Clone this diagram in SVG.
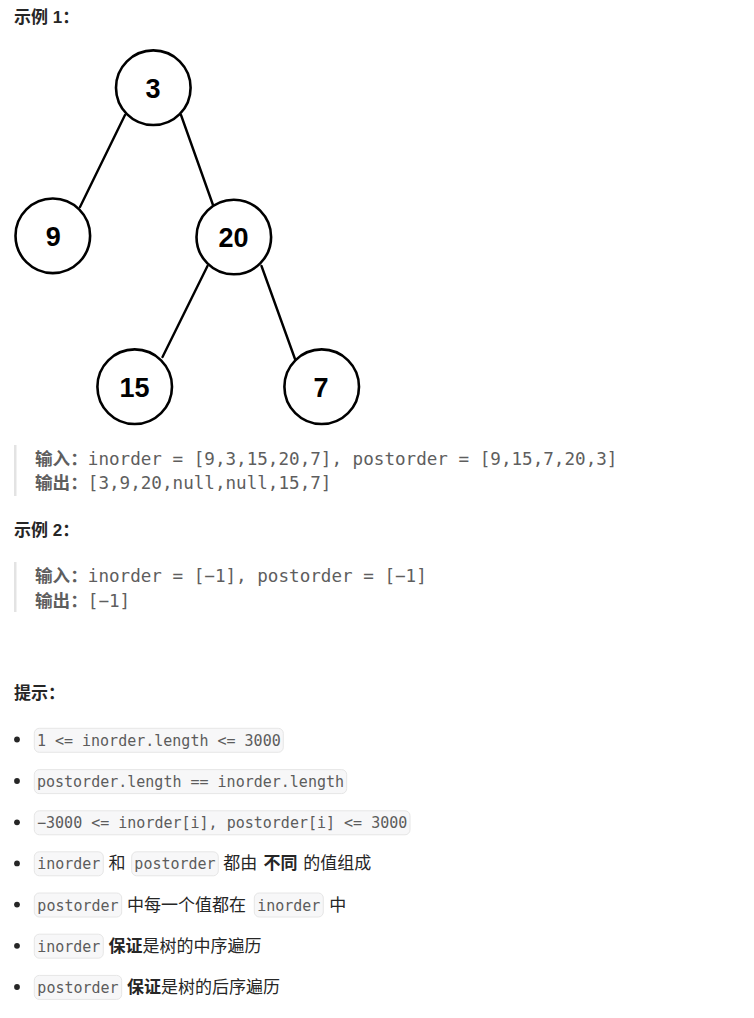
<svg xmlns="http://www.w3.org/2000/svg" width="754" height="1018" viewBox="0 0 754 1018">
<style>
.h{font-family:'Liberation Sans','Noto Sans CJK SC',sans-serif;font-weight:bold;font-size:17px;fill:#262626}
.t{font-family:'Noto Sans CJK SC',sans-serif;font-size:17px;fill:#262626}
.b{font-weight:bold}
.c{font-family:'DejaVu Sans Mono',monospace;font-size:15px;fill:#5c5c5c;text-anchor:middle}
.cb{fill:#f7f7f8;stroke:#e6e6e6;stroke-width:1}
.q{font-family:'DejaVu Sans Mono','Noto Sans CJK SC',monospace;font-size:17.6px;fill:#5e5e5e}
.qb{font-family:'Noto Sans CJK SC',sans-serif;font-weight:bold}
.bar{fill:#e3e3e3}
.dot{fill:#262626}
.node circle{fill:#fff;stroke:#000;stroke-width:2.6}
.node text{font-family:'Liberation Sans',Arial,sans-serif;font-weight:bold;font-size:27px;fill:#000;text-anchor:middle}
.edge{stroke:#000;stroke-width:2.4;stroke-linecap:round}
</style>
<rect width="754" height="1018" fill="#fff"/>

<text class="h" x="14" y="23">示例 1：</text>

<g id="connectors">
<line class="edge" x1="125" y1="115" x2="80" y2="207"/>
<line class="edge" x1="181" y1="115" x2="213" y2="205"/>
<line class="edge" x1="207.5" y1="266" x2="162.5" y2="357"/>
<line class="edge" x1="261.5" y1="266" x2="295" y2="359"/>
</g>

<g id="node-3" class="node"><circle cx="153.3" cy="87.7" r="37.3"/><text x="153" y="98.3">3</text></g>
<g id="node-9" class="node"><circle cx="52.8" cy="235.8" r="37.3"/><text x="53.3" y="245.7">9</text></g>
<g id="node-20" class="node"><circle cx="233.8" cy="237" r="37.3"/><text x="233.5" y="246.7">20</text></g>
<g id="node-15" class="node"><circle cx="134.7" cy="386.7" r="37.3"/><text x="134.5" y="396.5">15</text></g>
<g id="node-7" class="node"><circle cx="321.7" cy="386.7" r="37.3"/><text x="321" y="396.5">7</text></g>

<g id="example1">
<rect class="bar" x="14" y="445" width="2.5" height="51"/>
<text class="q" x="35" y="464.5"><tspan class="qb">输入：</tspan>inorder = [9,3,15,20,7], postorder = [9,15,7,20,3]</text>
<text class="q" x="35" y="489"><tspan class="qb">输出：</tspan>[3,9,20,null,null,15,7]</text>
</g>

<text class="h" x="14" y="535.5">示例 2：</text>

<g id="example2">
<rect class="bar" x="14" y="562" width="2.5" height="50"/>
<text class="q" x="35" y="581.5"><tspan class="qb">输入：</tspan>inorder = [−1], postorder = [−1]</text>
<text class="q" x="35" y="606.5"><tspan class="qb">输出：</tspan>[−1]</text>
</g>

<text class="h" x="14" y="699">提示：</text>

<g id="hints">
<circle class="dot" cx="17" cy="739.5" r="2.9"/>
<rect class="cb" x="34.3" y="728.3" width="249" height="24" rx="5"/>
<text class="c" x="158.8" y="745.6">1 &lt;= inorder.length &lt;= 3000</text>

<circle class="dot" cx="17" cy="781" r="2.9"/>
<rect class="cb" x="34.3" y="769.6" width="312.4" height="24" rx="5"/>
<text class="c" x="190.5" y="787">postorder.length == inorder.length</text>

<circle class="dot" cx="17" cy="822.3" r="2.9"/>
<rect class="cb" x="34.3" y="810.8" width="375.7" height="24" rx="5"/>
<text class="c" x="222.15" y="828.3">−3000 &lt;= inorder[i], postorder[i] &lt;= 3000</text>

<circle class="dot" cx="17" cy="863.4" r="2.9"/>
<rect class="cb" x="34.3" y="851.8" width="69" height="24" rx="5"/>
<text class="c" x="68.8" y="869.4">inorder</text>
<text class="t" x="108.5" y="869.4">和</text>
<rect class="cb" x="131.7" y="851.8" width="86.6" height="24" rx="5"/>
<text class="c" x="175" y="869.4">postorder</text>
<text class="t" x="223.3" y="869.4">都由</text>
<text class="t b" x="263.5" y="869.4">不同</text>
<text class="t" x="303.3" y="869.4">的值组成</text>

<circle class="dot" cx="17" cy="904.6" r="2.9"/>
<rect class="cb" x="34.3" y="893" width="87.4" height="24" rx="5"/>
<text class="c" x="78" y="910.6">postorder</text>
<text class="t" x="127" y="910.6">中每一个值都在</text>
<rect class="cb" x="254.3" y="893" width="69" height="24" rx="5"/>
<text class="c" x="288.8" y="910.6">inorder</text>
<text class="t" x="329.3" y="910.6">中</text>

<circle class="dot" cx="17" cy="945.8" r="2.9"/>
<rect class="cb" x="34.3" y="934.2" width="69" height="24" rx="5"/>
<text class="c" x="68.8" y="951.8">inorder</text>
<text class="t" x="108.6" y="951.8"><tspan class="b">保证</tspan>是树的中序遍历</text>

<circle class="dot" cx="17" cy="987" r="2.9"/>
<rect class="cb" x="34.3" y="975.4" width="87.4" height="24" rx="5"/>
<text class="c" x="78" y="993">postorder</text>
<text class="t" x="127" y="993"><tspan class="b">保证</tspan>是树的后序遍历</text>
</g>
</svg>
